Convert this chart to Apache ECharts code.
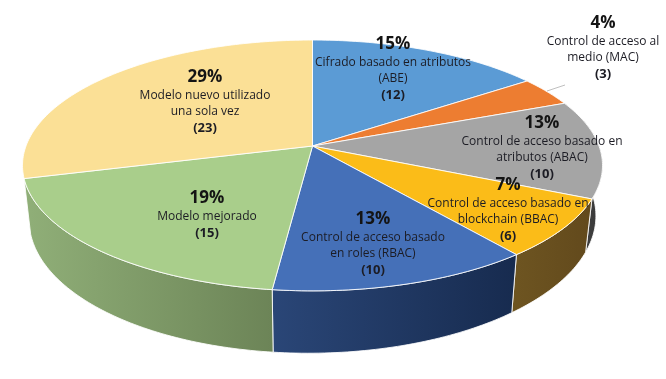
<!DOCTYPE html>
<html><head><meta charset="utf-8">
<style>html,body{margin:0;padding:0;background:#fff}#c{width:666px;height:379px}</style>
<script src="https://cdn.jsdelivr.net/npm/echarts@6/dist/echarts.min.js"></script>
</head><body><div id="c"></div>
<script>
const categories = [
  ['Cifrado basado en atributos', '(ABE)'],
  ['Control de acceso al', 'medio (MAC)'],
  ['Control de acceso basado en', 'atributos (ABAC)'],
  ['Control de acceso basado en', 'blockchain (BBAC)'],
  ['Control de acceso basado', 'en roles (RBAC)'],
  ['Modelo mejorado'],
  ['Modelo nuevo utilizado', 'una sola vez']
];
const values = [12, 3, 10, 6, 10, 15, 23];
const percentLabels = ['15%', '4%', '13%', '7%', '13%', '19%', '29%'];

// styles and layout, kept apart from the data
const faceColors = ['#5B9BD5', '#ED7D31', '#A5A5A5', '#FBBC18', '#4570B8', '#A9CE8B', '#FBE096'];
const wallColors = [
  null, null, ['#4A4A4A', '#383838'], ['#6E5521', '#62491C'],
  ['#2A4677', '#172B4F'], ['#90AF78', '#6C8457'], null
];
const labelAnchors = [[393, 43], [603, 22], [542, 122], [508, 184], [373, 218], [207, 197], [205, 76]];
const leaderLine = [[547, 91], [565, 85]];
const topRim = { cx: 312.5, cy: 146, a: 286.5, b: 122.4, k: 0.155 };
const lowRim = { cx: 312.5, cy: 197, a: 280, b: 132, k: 0.155, s: -2 };

const total = values.reduce((s, v) => s + v, 0);
const cum = values.reduce((acc, v) => { acc.push(acc[acc.length - 1] + v); return acc; }, [0]);
const angleOf = f => f / total * Math.PI * 2;

function topPt(t) {
  const u = Math.sin(t), v = Math.cos(t), w = 1 + topRim.k * v;
  return [topRim.cx + topRim.a * u / w, topRim.cy - topRim.b * v / w];
}
function rimPt(t) {
  const u = Math.sin(t), v = Math.cos(t), w = 1 + lowRim.k * v;
  return [lowRim.cx + lowRim.a * u / w, lowRim.cy - lowRim.b * v / w + lowRim.s * u / w];
}
function arc(fn, t0, t1) {
  const n = Math.max(2, Math.ceil((t1 - t0) / (Math.PI / 180)));
  const pts = [];
  for (let i = 0; i <= n; i++) pts.push(fn(t0 + (t1 - t0) * i / n));
  return pts;
}
const edge = { stroke: 'rgba(255,255,255,0.85)', lineWidth: 1 };

function renderWall(params, api) {
  const i = params.dataIndex;
  if (!wallColors[i]) return null;
  const c0 = cum[i], t0 = angleOf(c0), t1 = angleOf(c0 + api.value(0));
  const a = arc(topPt, t0, t1), b = arc(rimPt, t0, t1).reverse();
  const pts = a.concat(b);
  const xs = pts.map(p => p[0]);
  return {
    type: 'polygon',
    shape: { points: pts },
    style: {
      fill: new echarts.graphic.LinearGradient(Math.min(...xs), 0, Math.max(...xs), 0,
        [{ offset: 0, color: wallColors[i][0] }, { offset: 1, color: wallColors[i][1] }], true),
      ...edge
    }
  };
}
function renderFace(params, api) {
  const i = params.dataIndex, c0 = cum[i], t0 = angleOf(c0), t1 = angleOf(c0 + api.value(0));
  return {
    type: 'polygon',
    shape: { points: [[topRim.cx, topRim.cy]].concat(arc(topPt, t0, t1)) },
    style: { fill: faceColors[i], ...edge }
  };
}
function renderLabel(params, api) {
  const i = params.dataIndex, p = labelAnchors[i], lines = categories[i];
  const children = [{
    type: 'text', x: p[0], y: p[1] + 1,
    style: { text: percentLabels[i], font: 'bold 17px "Open Sans"', fill: '#141414', align: 'center', verticalAlign: 'middle' }
  }];
  lines.forEach((s, j) => children.push({
    type: 'text', x: p[0], y: p[1] + 20 + j * 16,
    style: { text: s, font: '12px "Open Sans"', fill: '#1c1c24', align: 'center', verticalAlign: 'middle' }
  }));
  children.push({
    type: 'text', x: p[0], y: p[1] + 20 + lines.length * 16,
    style: { text: '(' + api.value(0) + ')', font: 'bold 13px "Open Sans"', fill: '#1c1c24', align: 'center', verticalAlign: 'middle' }
  });
  return { type: 'group', children };
}
const chart = echarts.init(document.getElementById('c'), null, { renderer: 'canvas' });
const seriesData = values.map(v => [v]);
chart.setOption({
  animation: false,
  backgroundColor: '#fff',
  series: [
    { type: 'custom', coordinateSystem: 'none', renderItem: renderWall, data: seriesData, silent: true, z: 1 },
    { type: 'custom', coordinateSystem: 'none', renderItem: renderFace, data: seriesData, silent: true, z: 2 },
    { type: 'custom', coordinateSystem: 'none', renderItem: renderLabel, data: seriesData, silent: true, z: 4 },
    { type: 'custom', coordinateSystem: 'none', silent: true, z: 3, data: [[0]],
      renderItem: () => ({ type: 'polyline', shape: { points: leaderLine }, style: { stroke: '#BFBFBF', lineWidth: 1, fill: 'none' } }) }
  ]
});
</script></body></html>
